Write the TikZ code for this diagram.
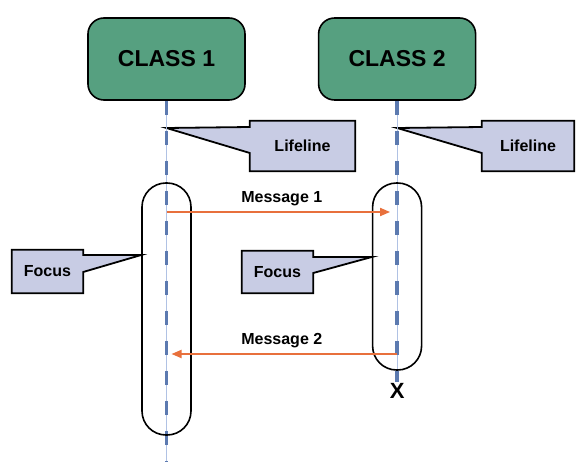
\documentclass[tikz,border=0pt]{standalone}
\usepackage{fontspec}
\setmainfont{Liberation Sans}
\usepackage{tikz}
\usetikzlibrary{arrows.meta}
\usetikzlibrary{positioning, backgrounds}

\definecolor{classgreen}{RGB}{86,160,128}
\definecolor{notefill}{RGB}{200,204,228}
\definecolor{lifeblue}{RGB}{92,122,176}
\definecolor{lifelight}{RGB}{176,194,228}
\definecolor{msgorange}{RGB}{232,112,60}

\begin{document}
\begin{tikzpicture}[x=1pt, y=-1pt,
	classbox/.style={rectangle, draw, line width=1.6pt, fill=classgreen, rounded corners=16pt, minimum width=157pt, minimum height=82pt, font=\fontsize{23}{26}\selectfont\bfseries},
	lifeline/.style={draw=lifeblue, line width=3.5pt, dash pattern=on 14pt off 16pt, preaction={draw=lifelight, line width=0.8pt, solid}},
	focusbar/.style={rectangle, draw, line width=1.6pt, rounded corners=24pt, minimum width=49pt},
	notetext/.style={rectangle, inner sep=0pt, font=\fontsize{16}{18}\selectfont\bfseries},
	notebox/.style={draw=black, line width=1.8pt, fill=notefill, line join=miter},
	msg/.style={draw=msgorange, line width=1.8pt, -{Triangle[length=10pt, width=8pt]}},
	msglabel/.style={font=\fontsize{16}{18}\selectfont\bfseries}]
	\useasboundingbox (0,0) rectangle (576,462);

	% --- Classes ---
	\node[classbox] (cls1) at (166.5,59) {CLASS 1};
	\node[classbox, right=72pt of cls1] (cls2) {CLASS 2};

	% --- Lifelines ---
	\coordinate (cls1end) at (cls1.south |- 0,462);
	\draw[lifeline] (cls1.south) -- (cls1end);

	% end of Class 2
	\node[font=\fontsize{22}{24}\selectfont\bfseries, inner sep=1pt] (kill) at (cls2.south |- 0,391) {X};
	\draw[lifeline] (cls2.south) -- (kill.north);

	% --- Focus bars ---
	\node[focusbar, minimum height=252pt] (focus1) at (cls1.south |- 0,309) {};
	\node[focusbar, minimum height=187pt] (focus2) at (cls2.south |- 0,276.5) {};

	% --- Notes ---
	\node[notetext, minimum width=105pt, minimum height=50pt] (life1) at (302.5,146) {Lifeline};
	\node[notetext, minimum width=92pt, minimum height=50pt] (life2) at (528,146) {Lifeline};
	\node[notetext, minimum width=71pt, minimum height=43pt] (foc1) at (47.5,271.5) {Focus};
	\node[notetext, minimum width=71pt, minimum height=42pt] (foc2) at (277.5,272) {Focus};

	\begin{scope}[on background layer]
		% Lifeline notes
		\draw[notebox] (life1.north west) -- (life1.north east) -- (life1.south east) -- (life1.south west) -- (life1.west |- 0,153) -- (cls1.south |- 0,128) -- (life1.west |- 0,127) -- cycle;
		\draw[notebox] (life2.north west) -- (life2.north east) -- (life2.south east) -- (life2.south west) -- (life2.west |- 0,153) -- (cls2.south |- 0,128) -- (life2.west |- 0,127) -- cycle;
		% Focus notes
		\draw[notebox] (foc1.north west) -- (foc1.north east) -- (foc1.east |- 0,255) -- (focus1.west |- 0,255) -- (foc1.east |- 0,272) -- (foc1.south east) -- (foc1.south west) -- cycle;
		\draw[notebox] (foc2.north west) -- (foc2.north east) -- (foc2.east |- 0,257) -- (focus2.west |- 0,257) -- (foc2.east |- 0,273) -- (foc2.south east) -- (foc2.south west) -- cycle;
	\end{scope}

	% --- Messages ---
	\draw[msg, shorten >=7pt] (cls1.south |- 0,212) -- (cls2.south |- 0,212) node[msglabel, midway, above=2pt] {Message 1};
	\draw[msg, shorten >=5pt] (cls2.south |- 0,354) -- (cls1.south |- 0,354) node[msglabel, midway, above=2pt] {Message 2};

\end{tikzpicture}
\end{document}
